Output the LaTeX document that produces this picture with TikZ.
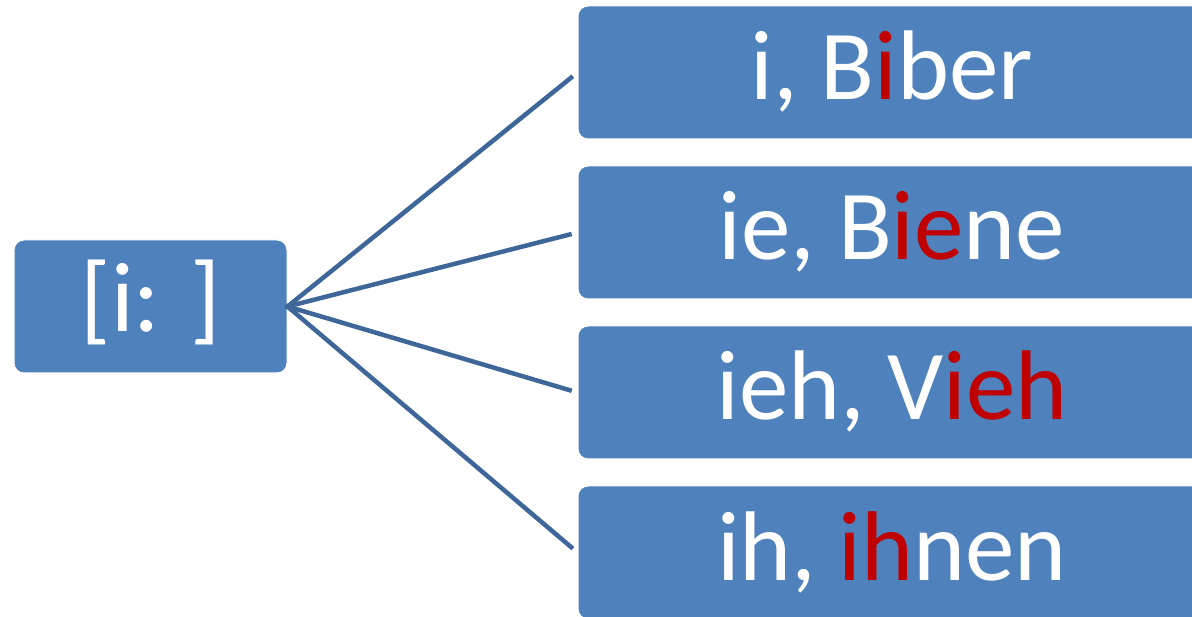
\documentclass[tikz,border=0pt]{standalone}
\usepackage{fontspec}
\setmainfont{Carlito}
\definecolor{boxblue}{HTML}{4F81BD}
\definecolor{linkblue}{HTML}{3E6699}
\definecolor{hl}{HTML}{C00000}
\begin{document}
\begin{tikzpicture}[x=1pt,y=-1pt,
  box/.style={rectangle, rounded corners=10pt, fill=boxblue, draw=white, line width=1pt,
    inner sep=0pt, text=white, font=\fontsize{99}{118}\selectfont},
  leftbox/.style={box, minimum width=273pt, minimum height=133pt, text height=68pt, text depth=17pt},
  rightbox/.style={box, minimum width=628pt, minimum height=133pt, text height=70pt, text depth=15pt},
  link/.style={draw=linkblue, line width=4.5pt, shorten >=6pt}
]
\useasboundingbox (0,0) rectangle (1192,617);
\clip (0,0) rectangle (1192,617);
\node[leftbox] (src) at (150.5,306.5) {[i: ]};
\node[rightbox] (b1) at (892,72.5) {i, B\textcolor{hl}{i}ber};
\node[rightbox] (b2) at (892,232.5) {ie, B\textcolor{hl}{ie}ne};
\node[rightbox] (b3) at (892,392.5) {ieh, V\textcolor{hl}{ieh}};
\node[rightbox] (b4) at (892,552.5) {ih, \textcolor{hl}{ih}nen};
\foreach \t in {b1,b2,b3,b4}
  \draw[link, shorten <=-2pt] (src.east) -- (\t.west);
\end{tikzpicture}
\end{document}
